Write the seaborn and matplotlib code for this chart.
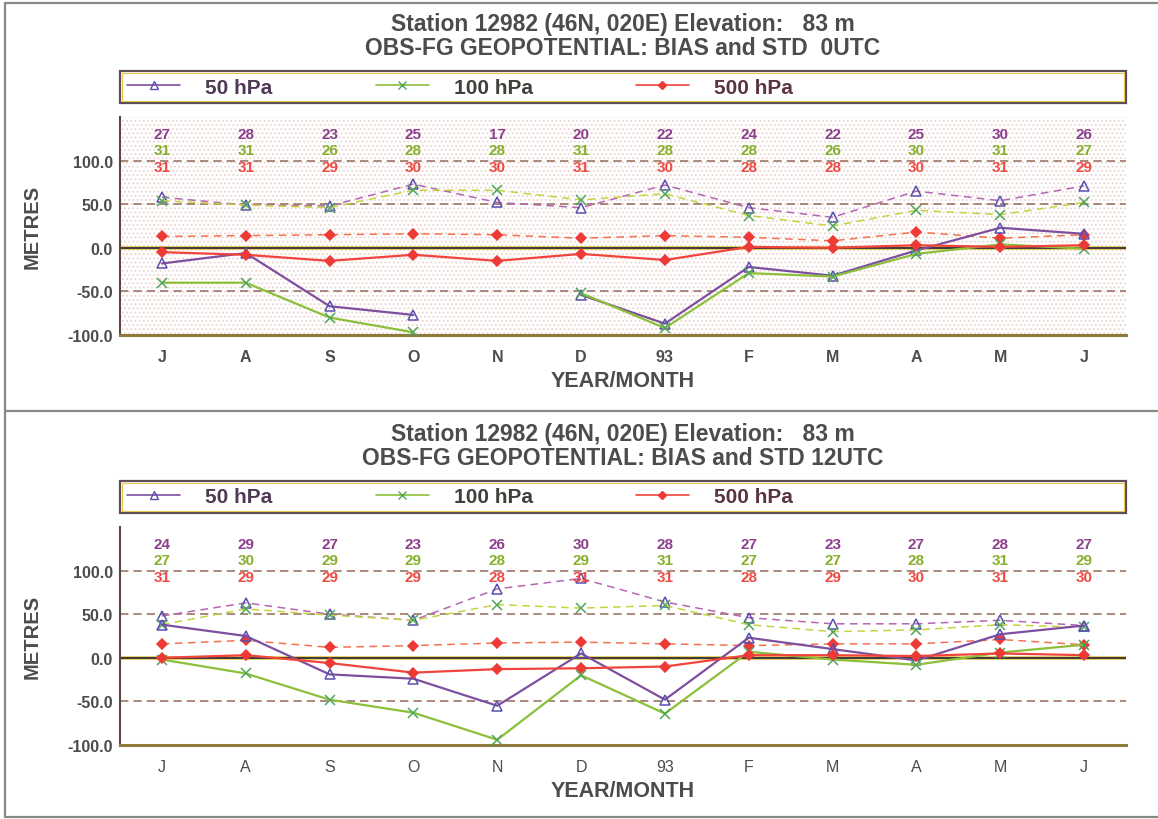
import numpy as np
import pandas as pd
import matplotlib
matplotlib.use("Agg")
import matplotlib.pyplot as plt
from matplotlib.lines import Line2D
from matplotlib.patches import Rectangle
import seaborn as sns

nan = np.nan

# ---------------------------------------------------------------- data
months = ["J", "A", "S", "O", "N", "D", "93", "F", "M", "A", "M", "J"]
level_names = ["50 hPa", "100 hPa", "500 hPa"]
yticks = [-100, -50, 0, 50, 100]

station_title = "Station 12982 (46N, 020E) Elevation:   83 m"
utc_titles = ["OBS-FG GEOPOTENTIAL: BIAS and STD  0UTC",
              "OBS-FG GEOPOTENTIAL: BIAS and STD 12UTC"]

# 00 UTC : mean bias (solid) and standard deviation (dashed), metres
bias_00_50 = [-18, -6, -67, -77, nan, -54, -87, -22, -32, -3, 23, 16]
bias_00_100 = [-40, -40, -80, -97, nan, -52, -92, -29, -33, -7, 4, -1]
bias_00_500 = [-5, -8, -15, -8, -15, -7, -14, 1, 0, 3, 1, 3]
std_00_50 = [58, 49, 48, 73, 52, 46, 72, 46, 35, 65, 54, 71]
std_00_100 = [54, 49, 46, 66, 66, 55, 62, 37, 25, 43, 38, 52]
std_00_500 = [13, 14, 15, 16, 15, 11, 14, 12, 8, 18, 11, 15]
count_00_50 = [27, 28, 23, 25, 17, 20, 22, 24, 22, 25, 30, 26]
count_00_100 = [31, 31, 26, 28, 28, 31, 28, 28, 26, 30, 31, 27]
count_00_500 = [31, 31, 29, 30, 30, 31, 30, 28, 28, 30, 31, 29]

# 12 UTC
bias_12_50 = [38, 25, -19, -24, -55, 5, -48, 23, 10, -3, 27, 37]
bias_12_100 = [-2, -18, -48, -63, -94, -20, -64, 7, -2, -8, 6, 15]
bias_12_500 = [0, 3, -6, -17, -13, -12, -10, 3, 3, 2, 5, 3]
std_12_50 = [48, 63, 50, 43, 79, 91, 64, 46, 39, 39, 43, 37]
std_12_100 = [38, 56, 49, 43, 61, 57, 60, 38, 30, 32, 38, 35]
std_12_500 = [16, 20, 12, 14, 17, 18, 16, 14, 16, 16, 21, 15]
count_12_50 = [24, 29, 27, 23, 26, 30, 28, 27, 23, 27, 28, 27]
count_12_100 = [27, 30, 29, 29, 28, 29, 31, 27, 27, 28, 31, 29]
count_12_500 = [31, 29, 29, 29, 28, 31, 31, 28, 29, 30, 31, 30]

# ---------------------------------------------------------------- style
sns.set_style("white")
plt.rcParams["font.family"] = ["Liberation Sans", "DejaVu Sans"]
plt.rcParams["hatch.linewidth"] = 0.8

TEXT = "#4d4b4b"
solid_col = {"50 hPa": "#7d4f9e", "100 hPa": "#8cbf3a", "500 hPa": "#f0443c"}
dash_col = {"50 hPa": "#b565b3", "100 hPa": "#c3d43e", "500 hPa": "#f2724e"}
count_col = {"50 hPa": "#8b3f8c", "100 hPa": "#86b02c", "500 hPa": "#ef4a42"}
legend_text_col = {"50 hPa": "#4f3a55", "100 hPa": "#3f403a", "500 hPa": "#5a3444"}
marker_of = {"50 hPa": "^", "100 hPa": "x", "500 hPa": "D"}
mec_of = {"50 hPa": "#5a4fae", "100 hPa": "#4fa65a", "500 hPa": "#ee3a36"}
mfc_of = {"50 hPa": "none", "100 hPa": "none", "500 hPa": "#ee3a36"}
ms_of = {"50 hPa": 7.5, "100 hPa": 7, "500 hPa": 5}

W, H = 1158, 820
fig = plt.figure(figsize=(W / 100, H / 100), dpi=100)


def fx(px):
    return px / W


def fy(py):
    return 1 - py / H


def draw_series(ax, values, level, dashed):
    y = np.asarray(values, dtype=float)
    x = np.arange(len(y))
    ok = ~np.isnan(y)
    seg = np.cumsum(~ok)
    df = pd.DataFrame({"month": x[ok], "value": y[ok], "segment": seg[ok]})
    sns.lineplot(
        data=df, x="month", y="value", units="segment", estimator=None,
        ax=ax, sort=False, legend=False,
        color=dash_col[level] if dashed else solid_col[level],
        linewidth=1.1 if dashed else 1.6,
        linestyle=(0, (5, 3.5)) if dashed else "-",
        marker=marker_of[level], markersize=ms_of[level],
        markerfacecolor=mfc_of[level], markeredgecolor=mec_of[level],
        markeredgewidth=1.1, zorder=3 if dashed else 4,
    )


def panel(top, bias, std, counts, utc_title, dotted, month_weight):
    left, right = 120, 1126
    ax_top, ax_bot = top + 114, top + 332
    ax = fig.add_axes([fx(left), fy(ax_bot), (right - left) / W,
                       (ax_bot - ax_top) / H])
    ax.set_xlim(-0.5, 11.5)
    ax.set_ylim(-100, 150)

    if dotted:
        ax.add_patch(Rectangle((0, 0), 1, 1, transform=ax.transAxes,
                               facecolor="white", edgecolor="#ebd3cf",
                               hatch="....", linewidth=0, zorder=0))

    # reference levels
    for yv in (100, 50, -50):
        ax.axhline(yv, color="#9b7565", lw=1.2, ls=(0, (5, 3)), zorder=1)
    ax.axhline(0, color="#e0c448", lw=2.6, zorder=2)
    ax.axhline(0, color="#3e3a3a", lw=1.4, zorder=2)

    for lvl, vals in zip(level_names, std):
        draw_series(ax, vals, lvl, dashed=True)
    for lvl, vals in zip(level_names, bias):
        draw_series(ax, vals, lvl, dashed=False)

    # monthly observation counts
    for lvl, vals, yv in zip(level_names, counts, (131, 112, 93)):
        for i, n in enumerate(vals):
            ax.text(i, yv, str(n), ha="center", va="center", fontsize=11,
                    fontweight="bold", color=count_col[lvl], zorder=5)

    # axes frame
    for s in ("top", "right"):
        ax.spines[s].set_visible(False)
    ax.spines["left"].set_color("#5e4646")
    ax.spines["left"].set_linewidth(1.5)
    ax.spines["bottom"].set_color("#8f7a3c")
    ax.spines["bottom"].set_linewidth(2.2)

    ax.set_yticks(yticks)
    ax.set_yticklabels([f"{v:.1f}" for v in yticks])
    ax.tick_params(axis="y", direction="out", length=4, width=1.3,
                   color="#5e4646", pad=1, labelsize=11.5, labelcolor=TEXT)
    for t in ax.get_yticklabels():
        t.set_fontweight("bold")

    ax.set_xticks(range(len(months)))
    ax.set_xticklabels(months)
    ax.set_xticks(np.arange(-0.5, 12, 1.0), minor=True)
    ax.tick_params(axis="x", which="major", length=0, pad=10,
                   labelsize=11.5, labelcolor=TEXT)
    ax.tick_params(axis="x", which="minor", direction="out", length=5,
                   width=1.3, color="#5e4646")
    for t in ax.get_xticklabels():
        t.set_fontweight(month_weight)

    ax.set_xlabel("YEAR/MONTH", fontsize=15.5, fontweight="bold", color=TEXT,
                  va="top")
    ax.xaxis.set_label_coords(0.5, -0.16)
    ax.set_ylabel("METRES", fontsize=14.5, fontweight="bold", color=TEXT)
    ax.yaxis.set_label_coords(-0.078, 0.5)
    ax.grid(False)

    # titles
    cx = fx((left + right) / 2)
    fig.text(cx, fy(top + 27), station_title, ha="center", va="baseline",
             fontsize=16.5, fontweight="bold", color=TEXT)
    fig.text(cx, fy(top + 51), utc_title, ha="center", va="baseline",
             fontsize=16.5, fontweight="bold", color=TEXT)

    # legend box and entries
    lb_top, lb_bot = top + 68, top + 100
    fig.add_artist(Rectangle((fx(left), fy(lb_bot)), (right - left) / W,
                             (lb_bot - lb_top) / H, transform=fig.transFigure,
                             facecolor="white", edgecolor="#5c4c58",
                             linewidth=1.6, zorder=1))
    fig.add_artist(Rectangle((fx(left + 2), fy(lb_bot - 2)),
                             (right - left - 4) / W, (lb_bot - lb_top - 4) / H,
                             transform=fig.transFigure, facecolor="none",
                             edgecolor="#e8c84c", linewidth=0.8, zorder=1))
    handles = [Line2D([], [], color=solid_col[l], lw=1.2, marker=marker_of[l],
                      markersize=ms_of[l] * 0.75, markerfacecolor=mfc_of[l],
                      markeredgecolor=mec_of[l]) for l in level_names]
    leg = fig.legend(handles, level_names, loc="center left",
                     bbox_to_anchor=(fx(127), fy((lb_top + lb_bot) / 2)),
                     ncol=3, frameon=False, borderpad=0, borderaxespad=0,
                     handlelength=2.55, handletextpad=1.2, columnspacing=4.95,
                     prop={"weight": "bold", "size": 15})
    for t in leg.get_texts():
        t.set_color(legend_text_col[t.get_text()])
    return ax


panel(4, [bias_00_50, bias_00_100, bias_00_500],
      [std_00_50, std_00_100, std_00_500],
      [count_00_50, count_00_100, count_00_500],
      utc_titles[0], dotted=True, month_weight="bold")
panel(414, [bias_12_50, bias_12_100, bias_12_500],
      [std_12_50, std_12_100, std_12_500],
      [count_12_50, count_12_100, count_12_500],
      utc_titles[1], dotted=False, month_weight="normal")

# outer frame of the two panels
frame = dict(color="#8a8886", lw=1.6, transform=fig.transFigure)
for py in (4, 412, 818):
    fig.add_artist(Line2D([fx(5), 1], [fy(py), fy(py)], **frame))
fig.add_artist(Line2D([fx(5), fx(5)], [fy(4), fy(818)], **frame))

fig.savefig("out.png", dpi=100)
